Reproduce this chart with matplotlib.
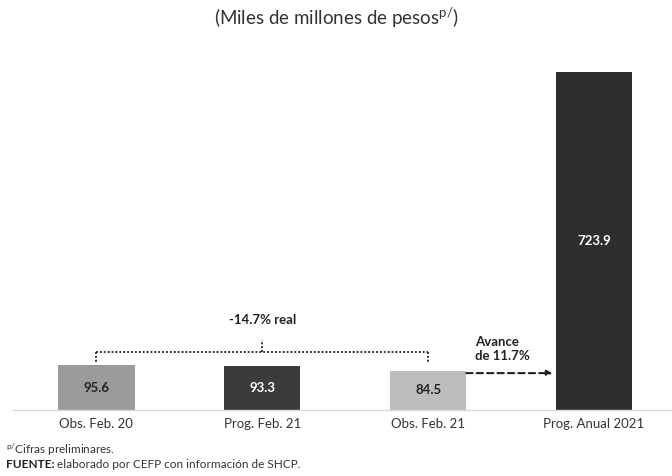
import matplotlib
matplotlib.use("Agg")
import matplotlib.pyplot as plt

plt.rcParams['font.family'] = ['Lato', 'DejaVu Sans']

categories = ["Obs. Feb. 20", "Prog. Feb. 21", "Obs. Feb. 21", "Prog. Anual 2021"]
values = [95.6, 93.3, 84.5, 723.9]
value_labels = ["95.6", "93.3", "84.5", "723.9"]
bar_colors = ["#9b9b9b", "#3b3b3b", "#bdbdbd", "#2e2e2e"]
label_colors = ["#222222", "#ffffff", "#222222", "#ffffff"]
change_label = "-14.7% real"
advance_label = "Avance\nde 11.7%"

fig = plt.figure(figsize=(6.72, 4.76), dpi=100)
ax = fig.add_axes([0.02, (476 - 410) / 476, 0.98, (410 - 50) / 476])
x = list(range(len(categories)))
ax.bar(x, values, width=0.46, color=bar_colors, zorder=2)
ax.set_xlim(-0.5, 3.47)
ax.set_ylim(0, 771)

for xi, v, lab, c in zip(x, values, value_labels, label_colors):
    ax.text(xi, v / 2, lab, ha='center', va='center', color=c,
            fontsize=9.5, fontweight='bold', zorder=3)

for s in ['top', 'right', 'left']:
    ax.spines[s].set_visible(False)
ax.spines['bottom'].set_color('#d9d9d9')
ax.spines['bottom'].set_linewidth(1.0)
ax.set_yticks([])
ax.set_xticks(x)
ax.set_xticklabels(categories, fontsize=9.5, color='#333333')
ax.tick_params(axis='x', length=0, pad=6)

# bracket between Obs. Feb. 20 and Obs. Feb. 21
yb = 124
ls = dict(color='#333333', linestyle=(0, (1, 1)), linewidth=1.4, zorder=3)
ax.plot([x[0], x[2]], [yb, yb], **ls)
ax.plot([x[0], x[0]], [yb, values[0] + 8], **ls)
ax.plot([x[2], x[2]], [yb, values[2] + 16], **ls)
ax.plot([x[1], x[1]], [yb, yb + 26], **ls)
ax.text(x[1], 193, change_label, ha='center', va='center', fontsize=9.5,
        fontweight='bold', color='#222222')

# dashed arrow
ax.annotate('', xy=(x[3] - 0.25, 79), xytext=(x[2] + 0.23, 79),
            arrowprops=dict(arrowstyle='-|>', linestyle=(0, (3, 2)),
                            color='#222222', lw=1.5, mutation_scale=8,
                            shrinkA=0, shrinkB=0))
ax.text(x[2] + 0.28, 130, advance_label, ha='left', va='center', fontsize=9.5,
        fontweight='bold', color='#222222', linespacing=1.2)

fig.text(0.5, 1 - 18 / 476, r"(Miles de millones de pesos$\mathregular{^{p/}}$)",
         ha='center', va='center', fontsize=13.5, color='#333333')

fig.text(6 / 672, 1 - 450 / 476, r"$\mathregular{^{p/}}$Cifras preliminares.",
         ha='left', va='center', fontsize=8.5, color='#333333')
t1 = fig.text(6 / 672, 1 - 465 / 476, "FUENTE:", ha='left', va='center',
              fontsize=8.5, fontweight='bold', color='#222222')
fig.canvas.draw()
bb = t1.get_window_extent(renderer=fig.canvas.get_renderer())
fig.text((bb.x1 + 2) / 672, 1 - 465 / 476, "elaborado por CEFP con información de SHCP.",
         ha='left', va='center', fontsize=8.5, color='#333333')

fig.savefig("out.png", dpi=100)
